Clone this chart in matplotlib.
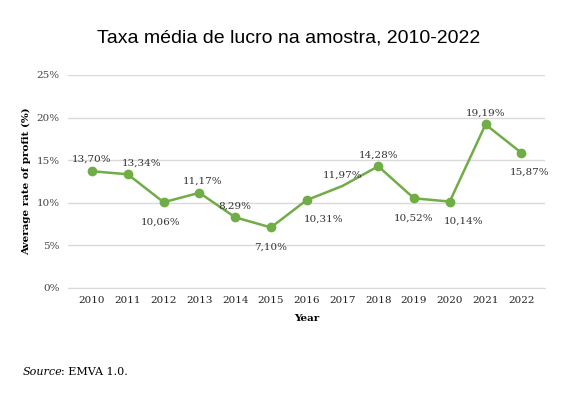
import matplotlib
matplotlib.use("Agg")
import matplotlib.pyplot as plt

years = [2010, 2011, 2012, 2013, 2014, 2015, 2016, 2017, 2018, 2019, 2020, 2021, 2022]
values = [13.70, 13.34, 10.06, 11.17, 8.29, 7.10, 10.31, 11.97, 14.28, 10.52, 10.14, 19.19, 15.87]
marked = [True]*7 + [False] + [True]*5
offsets = [(0, 9), (10, 8), (-2, -14), (2, 8), (0, 8), (0, -14), (12, -14), (0, 8), (0, 8), (0, -14), (10, -14), (0, 8), (6, -14)]

serif = "DejaVu Serif"
fig = plt.figure(figsize=(5.77, 4.01), dpi=100)
ax = fig.add_axes([0.118, 0.282, 0.827, 0.531])
green = "#70ad47"
ax.plot(years, values, color=green, lw=1.8, zorder=3)
ax.plot([y for y, m in zip(years, marked) if m], [v for v, m in zip(values, marked) if m],
        "o", color=green, ms=6, zorder=4)
for y, v, (dx, dy) in zip(years, values, offsets):
    ax.annotate(f"{v:.2f}%".replace(".", ","), (y, v), xytext=(dx, dy), textcoords="offset points",
                ha="center", va="center", fontsize=7.5, family=serif, color="#333333")
ax.set_xlim(2009.33, 2022.67)
ax.set_ylim(0, 25)
ax.set_yticks(range(0, 26, 5))
ax.set_yticklabels([f"{t}%" for t in range(0, 26, 5)], family=serif, fontsize=7.5, color="#444444")
ax.set_xticks(years)
ax.set_xticklabels([str(y) for y in years], family=serif, fontsize=7.5, color="#222222")
ax.grid(axis="y", color="#d9d9d9", lw=1)
ax.set_axisbelow(True)
for s in ["top", "right", "left"]:
    ax.spines[s].set_visible(False)
ax.spines["bottom"].set_color("#d9d9d9")
ax.tick_params(length=0, pad=6)
ax.set_xlabel("Year", family=serif, fontsize=7.5, fontweight="bold", labelpad=6)
ax.set_ylabel("Average rate of profit (%)", family=serif, fontsize=7.5, fontweight="bold", labelpad=4)
fig.text(0.5, 0.905, "Taxa média de lucro na amostra, 2010-2022", ha="center", va="center",
         fontsize=14, family="Liberation Sans")
fig.text(0.04, 0.072, "Source", ha="left", va="center", fontsize=8, family=serif, style="italic")
fig.text(0.105, 0.072, ": EMVA 1.0.", ha="left", va="center", fontsize=8, family=serif)
fig.savefig("out.png", dpi=100)
